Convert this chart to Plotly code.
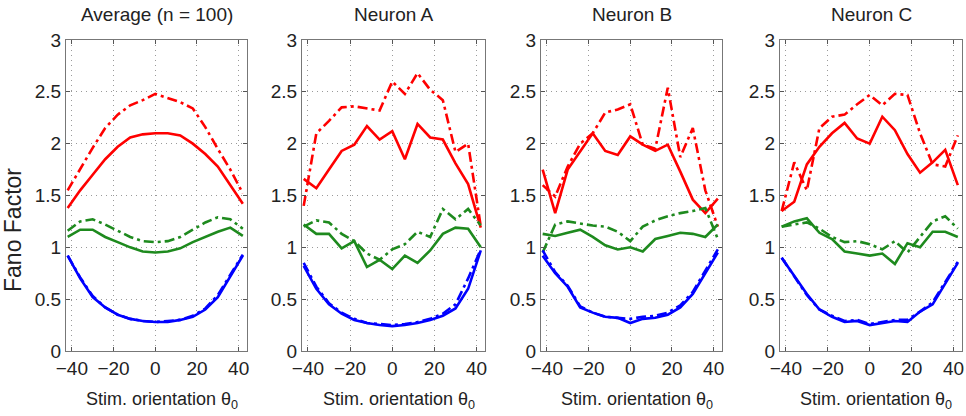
import plotly.graph_objects as go

THETA = [-42, -36, -30, -24, -18, -12, -6, 0, 6, 12, 18, 24, 30, 36, 42]

PANEL_TITLES = ["Average (n = 100)", "Neuron A", "Neuron B", "Neuron C"]
X_TICKS = [-40, -20, 0, 20, 40]
X_TICK_LABELS = ["\u221240", "\u221220", "0", "20", "40"]
Y_TICKS = [0, 0.5, 1, 1.5, 2, 2.5, 3]
Y_TICK_LABELS = ["0", "0.5", "1", "1.5", "2", "2.5", "3"]

# Average
AVG_RED_SOLID = [1.38, 1.55, 1.70, 1.85, 1.97, 2.06, 2.09, 2.10, 2.10, 2.08, 2.00, 1.90, 1.78, 1.60, 1.42]
AVG_RED_DASH = [1.55, 1.76, 1.96, 2.15, 2.28, 2.37, 2.42, 2.48, 2.44, 2.40, 2.34, 2.16, 1.95, 1.75, 1.52]
AVG_GREEN_SOLID = [1.10, 1.17, 1.17, 1.10, 1.05, 1.00, 0.96, 0.95, 0.96, 0.99, 1.05, 1.10, 1.15, 1.19, 1.11]
AVG_GREEN_DASH = [1.16, 1.25, 1.27, 1.22, 1.16, 1.10, 1.06, 1.05, 1.06, 1.10, 1.17, 1.24, 1.29, 1.27, 1.18]
AVG_BLUE_SOLID = [0.92, 0.70, 0.52, 0.42, 0.35, 0.31, 0.29, 0.28, 0.28, 0.30, 0.33, 0.40, 0.52, 0.72, 0.92]
AVG_BLUE_DASH = [0.92, 0.71, 0.53, 0.42, 0.35, 0.31, 0.29, 0.28, 0.29, 0.30, 0.34, 0.41, 0.54, 0.74, 0.93]

# Neuron A
A_RED_SOLID = [1.66, 1.57, 1.75, 1.93, 1.99, 2.17, 2.04, 2.12, 1.85, 2.19, 2.06, 2.04, 1.81, 1.61, 1.19]
A_RED_DASH = [1.40, 2.10, 2.22, 2.35, 2.36, 2.34, 2.32, 2.60, 2.48, 2.68, 2.52, 2.42, 1.92, 2.00, 1.20]
A_GREEN_SOLID = [1.22, 1.13, 1.13, 0.99, 1.06, 0.81, 0.88, 0.79, 0.92, 0.85, 0.97, 1.13, 1.19, 1.18, 1.00]
A_GREEN_DASH = [1.20, 1.26, 1.24, 1.13, 1.06, 0.94, 0.88, 0.98, 1.03, 1.15, 1.10, 1.37, 1.27, 1.37, 1.21]
A_BLUE_SOLID = [0.82, 0.60, 0.45, 0.36, 0.30, 0.27, 0.25, 0.24, 0.25, 0.27, 0.30, 0.34, 0.41, 0.60, 0.97]
A_BLUE_DASH = [0.85, 0.62, 0.46, 0.37, 0.31, 0.27, 0.26, 0.25, 0.26, 0.28, 0.31, 0.36, 0.45, 0.70, 0.98]

# Neuron B
B_RED_SOLID = [1.75, 1.33, 1.75, 1.92, 2.10, 1.93, 1.89, 2.07, 1.99, 1.93, 1.99, 1.73, 1.46, 1.33, 1.47]
B_RED_DASH = [1.60, 1.49, 1.78, 2.00, 2.10, 2.30, 2.33, 2.38, 1.99, 1.95, 2.54, 1.87, 2.15, 1.55, 1.20]
B_GREEN_SOLID = [1.13, 1.11, 1.14, 1.17, 1.10, 1.02, 0.98, 1.00, 0.96, 1.08, 1.11, 1.14, 1.13, 1.10, 1.22]
B_GREEN_DASH = [0.95, 1.22, 1.25, 1.23, 1.21, 1.20, 1.15, 1.06, 1.20, 1.26, 1.30, 1.33, 1.35, 1.38, 1.08]
B_BLUE_SOLID = [0.92, 0.75, 0.62, 0.42, 0.37, 0.33, 0.32, 0.27, 0.31, 0.32, 0.35, 0.42, 0.55, 0.75, 0.95]
B_BLUE_DASH = [0.97, 0.76, 0.63, 0.43, 0.37, 0.33, 0.32, 0.31, 0.33, 0.34, 0.37, 0.44, 0.57, 0.78, 0.98]

# Neuron C
C_RED_SOLID = [1.35, 1.44, 1.80, 1.97, 2.10, 2.20, 2.05, 2.00, 2.26, 2.13, 1.90, 1.72, 1.82, 1.94, 1.60]
C_RED_DASH = [1.35, 1.82, 1.55, 2.15, 2.26, 2.28, 2.38, 2.47, 2.37, 2.48, 2.47, 2.10, 1.80, 1.78, 2.08]
C_GREEN_SOLID = [1.20, 1.25, 1.28, 1.14, 1.08, 0.96, 0.94, 0.92, 0.94, 0.84, 1.04, 1.00, 1.15, 1.15, 1.10]
C_GREEN_DASH = [1.20, 1.22, 1.24, 1.18, 1.10, 1.05, 1.06, 1.03, 0.98, 1.06, 0.95, 1.10, 1.25, 1.30, 1.18]
C_BLUE_SOLID = [0.90, 0.73, 0.55, 0.40, 0.33, 0.28, 0.29, 0.25, 0.27, 0.29, 0.28, 0.38, 0.45, 0.65, 0.85]
C_BLUE_DASH = [0.90, 0.72, 0.54, 0.40, 0.34, 0.29, 0.30, 0.26, 0.28, 0.30, 0.30, 0.38, 0.47, 0.66, 0.86]

PANELS = [
    [AVG_RED_SOLID, AVG_RED_DASH, AVG_GREEN_SOLID, AVG_GREEN_DASH, AVG_BLUE_SOLID, AVG_BLUE_DASH],
    [A_RED_SOLID, A_RED_DASH, A_GREEN_SOLID, A_GREEN_DASH, A_BLUE_SOLID, A_BLUE_DASH],
    [B_RED_SOLID, B_RED_DASH, B_GREEN_SOLID, B_GREEN_DASH, B_BLUE_SOLID, B_BLUE_DASH],
    [C_RED_SOLID, C_RED_DASH, C_GREEN_SOLID, C_GREEN_DASH, C_BLUE_SOLID, C_BLUE_DASH],
]

W, H = 966, 416
RED, GREEN, BLUE = "#ff0000", "#1e8a1e", "#0000ff"
DD = "10px,4px,3px,4px"
STYLES = [(RED, "solid"), (RED, DD), (GREEN, "solid"), (GREEN, DD), (BLUE, "solid"), (BLUE, DD)]
DOMAINS_PX = [(66, 247), (302, 485), (541, 722), (780, 962)]
Y_TOP, Y_BOT = 40, 351
FONT = "Liberation Sans, Arial, Helvetica, sans-serif"
TXT = "#222222"

fig = go.Figure()
layout = dict(
    template="none",
    width=W, height=H, margin=dict(l=0, r=0, t=0, b=0, autoexpand=False),
    paper_bgcolor="white", plot_bgcolor="white", showlegend=False,
    font=dict(family=FONT, color=TXT),
)
annotations = []
axis_common = dict(
    ticks="inside", ticklen=4, tickcolor="#555", mirror="ticks",
    showline=True, linecolor="#777", linewidth=1,
    showgrid=True, gridcolor="#9a9a9a", griddash="1px,4px", gridwidth=1,
    zeroline=False, automargin=False,
    tickfont=dict(size=19, family=FONT, color=TXT),
)
for i, series in enumerate(PANELS):
    n = "" if i == 0 else str(i + 1)
    for (color, dash), vals in zip(STYLES, series):
        fig.add_trace(go.Scatter(
            x=THETA, y=vals, mode="lines",
            line=dict(color=color, width=2.6, dash=dash),
            xaxis="x" + n, yaxis="y" + n, hoverinfo="skip",
        ))
    x0, x1 = DOMAINS_PX[i]
    layout["xaxis" + n] = dict(
        domain=[x0 / W, x1 / W], anchor="y" + n, range=[-42.8, 44],
        tickvals=X_TICKS, ticktext=X_TICK_LABELS, **axis_common,
    )
    layout["yaxis" + n] = dict(
        domain=[1 - Y_BOT / H, 1 - Y_TOP / H], anchor="x" + n, range=[0, 3],
        tickvals=Y_TICKS, ticktext=Y_TICK_LABELS, **axis_common,
    )
    cx = (x0 + x1) / 2 / W
    annotations.append(dict(
        text=PANEL_TITLES[i], x=cx, y=1 - 15 / H, xref="paper", yref="paper",
        showarrow=False, xanchor="center", yanchor="middle",
        font=dict(size=19, family=FONT, color=TXT),
    ))
    annotations.append(dict(
        text="Stim. orientation \u03b8<sub>0</sub>", x=cx + 5 / W, y=1 - 400 / H,
        xref="paper", yref="paper", showarrow=False,
        xanchor="center", yanchor="middle",
        font=dict(size=18, family=FONT, color=TXT),
    ))

annotations.append(dict(
    text="Fano Factor", x=13 / W, y=1 - 230 / H, xref="paper", yref="paper",
    showarrow=False, textangle=-90, xanchor="center", yanchor="middle",
    font=dict(size=23, family=FONT, color=TXT),
))
layout["annotations"] = annotations
fig.update_layout(**layout)
fig.write_html(
    "out.html",
    config={"displayModeBar": False},
    post_script="document.body.style.margin='0px';document.body.style.padding='0px';",
)
